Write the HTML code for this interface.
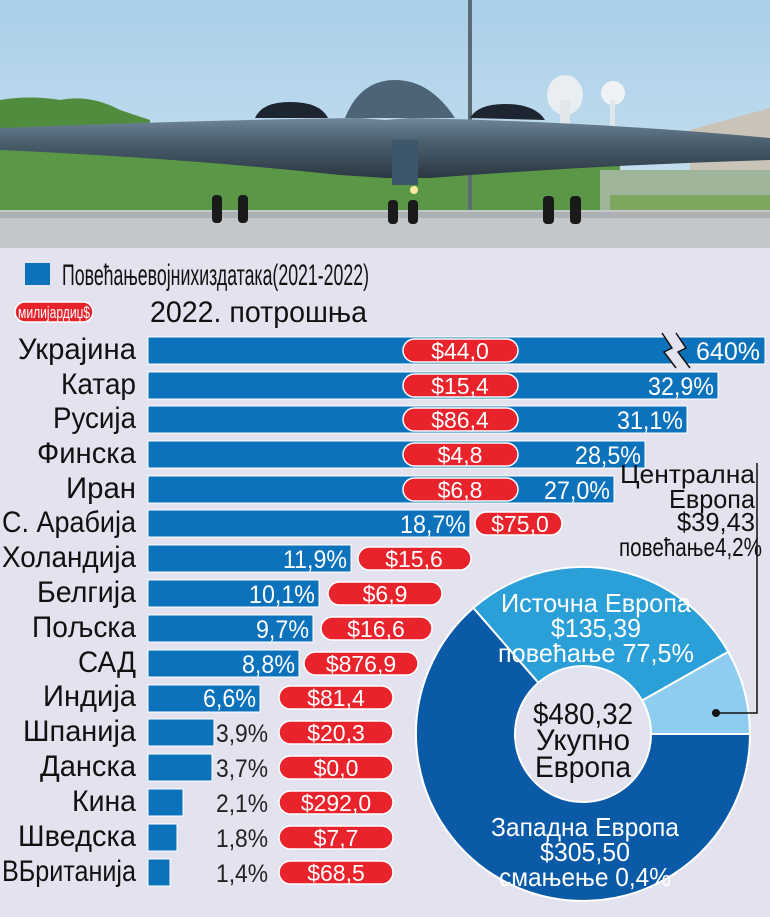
<!DOCTYPE html>
<html><head><meta charset="utf-8"><style>
html,body{margin:0;padding:0;background:#e3e3f0}
svg{display:block}
text{font-family:"Liberation Sans Narrow","Liberation Sans",sans-serif}
</style></head><body>
<svg width="770" height="917" viewBox="0 0 770 917" xmlns="http://www.w3.org/2000/svg">
<defs>
<linearGradient id="sky" x1="0" y1="0" x2="0" y2="1"><stop offset="0" stop-color="#a9cfe9"/><stop offset="1" stop-color="#cfe3f0"/></linearGradient>
<linearGradient id="wing" x1="0" y1="0" x2="0" y2="1"><stop offset="0" stop-color="#6e8698"/><stop offset="0.4" stop-color="#4b5f6e"/><stop offset="1" stop-color="#2c3843"/></linearGradient>
</defs>
<rect x="0" y="0" width="770" height="917" fill="#e3e3f0"/>
<rect x="0" y="0" width="770" height="248" fill="url(#sky)"/>
<path d="M0,100 Q30,95 60,100 Q90,94 120,110 L150,120 L150,210 L0,210 Z" fill="#4f8c3e"/>
<rect x="0" y="150" width="620" height="60" fill="#5a9848"/>
<rect x="600" y="170" width="170" height="40" fill="#9fb59a"/>
<rect x="610" y="195" width="160" height="15" fill="#7fa65e"/>
<path d="M690,130 L770,108 L770,170 L690,170 Z" fill="#c9c3b8"/>
<ellipse cx="565" cy="95" rx="18" ry="20" fill="#e8eef2"/><rect x="560" y="100" width="10" height="30" fill="#e0e6ea"/>
<ellipse cx="613" cy="93" rx="12" ry="12" fill="#eef2f5"/><rect x="610" y="100" width="5" height="30" fill="#e0e6ea"/>
<rect x="468" y="0" width="4" height="210" fill="#5d6a73"/>
<rect x="0" y="210" width="770" height="38" fill="#c4c7c9"/>
<rect x="0" y="212" width="770" height="6" fill="#aeb1b3"/>
<path d="M0,128 Q200,120 360,118 L385,120 L410,118 Q600,122 770,138 L770,160 Q600,165 430,178 L385,178 L340,175 Q180,158 0,150 Z" fill="url(#wing)"/>
<path d="M345,118 Q360,80 395,80 Q430,80 455,118 Z" fill="#4d6477"/>
<path d="M255,118 Q262,102 290,102 Q320,102 328,118 Z" fill="#1c2530"/>
<path d="M470,118 Q478,104 505,104 Q535,104 545,120 Z" fill="#1c2530"/>
<rect x="392" y="140" width="26" height="45" fill="#3e566a"/>
<rect x="212" y="195" width="10" height="28" rx="4" fill="#1a1a1a"/><rect x="238" y="195" width="10" height="28" rx="4" fill="#1a1a1a"/>
<rect x="388" y="200" width="10" height="24" rx="4" fill="#1a1a1a"/><rect x="408" y="200" width="10" height="24" rx="4" fill="#1a1a1a"/>
<rect x="543" y="196" width="11" height="28" rx="4" fill="#1a1a1a"/><rect x="570" y="196" width="11" height="28" rx="4" fill="#1a1a1a"/>
<circle cx="414" cy="190" r="4" fill="#ffe9a0"/>

<rect x="25" y="263" width="25" height="22" fill="#0b72bb"/>
<text x="62" y="285" font-size="30" fill="#111" textLength="307" lengthAdjust="spacingAndGlyphs">Повећањевојнихиздатака(2021-2022)</text>
<rect x="15" y="302" width="78" height="20" rx="10" fill="#e8232b" stroke="#fff" stroke-width="1.5"/>
<text x="54" y="318" font-size="17" fill="#fff" text-anchor="middle" textLength="72" lengthAdjust="spacingAndGlyphs">милијардиџ$</text>
<text x="150" y="322" font-size="30" fill="#111" textLength="217" lengthAdjust="spacingAndGlyphs">2022. потрошња</text>

<g font-size="30" fill="#111" text-anchor="end" lengthAdjust="spacingAndGlyphs">
<text x="136" y="359" textLength="118" lengthAdjust="spacingAndGlyphs">Украјина</text>
<text x="136" y="394" textLength="75" lengthAdjust="spacingAndGlyphs">Катар</text>
<text x="136" y="428" textLength="83" lengthAdjust="spacingAndGlyphs">Русија</text>
<text x="136" y="463" textLength="99" lengthAdjust="spacingAndGlyphs">Финска</text>
<text x="136" y="498" textLength="70" lengthAdjust="spacingAndGlyphs">Иран</text>
<text x="136" y="532" textLength="134" lengthAdjust="spacingAndGlyphs">С. Арабија</text>
<text x="136" y="567" textLength="134" lengthAdjust="spacingAndGlyphs">Холандија</text>
<text x="136" y="602" textLength="99" lengthAdjust="spacingAndGlyphs">Белгија</text>
<text x="136" y="637" textLength="104" lengthAdjust="spacingAndGlyphs">Пољска</text>
<text x="136" y="672" textLength="58" lengthAdjust="spacingAndGlyphs">САД</text>
<text x="136" y="706" textLength="93" lengthAdjust="spacingAndGlyphs">Индија</text>
<text x="136" y="741" textLength="113" lengthAdjust="spacingAndGlyphs">Шпанија</text>
<text x="136" y="776" textLength="96" lengthAdjust="spacingAndGlyphs">Данска</text>
<text x="136" y="811" textLength="64" lengthAdjust="spacingAndGlyphs">Кина</text>
<text x="136" y="846" textLength="118" lengthAdjust="spacingAndGlyphs">Шведска</text>
<text x="136" y="881" textLength="134" lengthAdjust="spacingAndGlyphs">ВБританија</text>
</g>

<g fill="#0b72bb" stroke="#fff" stroke-width="1">
<rect x="148" y="337" width="617" height="27"/>
<rect x="148" y="372" width="570" height="27"/>
<rect x="148" y="406" width="539" height="27"/>
<rect x="148" y="441" width="497" height="27"/>
<rect x="148" y="476" width="466" height="27"/>
<rect x="148" y="510" width="322" height="27"/>
<rect x="148" y="545" width="203" height="27"/>
<rect x="148" y="580" width="171" height="27"/>
<rect x="148" y="615" width="165" height="27"/>
<rect x="148" y="650" width="151" height="27"/>
<rect x="148" y="685" width="112" height="27"/>
<rect x="148" y="719" width="66" height="27"/>
<rect x="148" y="754" width="64" height="27"/>
<rect x="148" y="789" width="35" height="27"/>
<rect x="148" y="824" width="29" height="27"/>
<rect x="148" y="859" width="22" height="27"/>
</g>
<path d="M662,333 L672,348 L664,352 L676,368 L690,368 L678,352 L686,348 L676,333 Z" fill="#e3e3f0"/>
<path d="M662,333 L672,348 L664,352 L676,368 M676,333 L686,348 L678,352 L690,368" fill="none" stroke="#111" stroke-width="1.5"/>

<g font-size="25" fill="#fff" text-anchor="end">
<text x="760" y="360" textLength="64" lengthAdjust="spacingAndGlyphs">640%</text>
<text x="714" y="395" textLength="66" lengthAdjust="spacingAndGlyphs">32,9%</text>
<text x="683" y="429" textLength="66" lengthAdjust="spacingAndGlyphs">31,1%</text>
<text x="641" y="464" textLength="66" lengthAdjust="spacingAndGlyphs">28,5%</text>
<text x="610" y="499" textLength="66" lengthAdjust="spacingAndGlyphs">27,0%</text>
<text x="466" y="533" textLength="66" lengthAdjust="spacingAndGlyphs">18,7%</text>
<text x="347" y="568" textLength="64" lengthAdjust="spacingAndGlyphs">11,9%</text>
<text x="315" y="603" textLength="66" lengthAdjust="spacingAndGlyphs">10,1%</text>
<text x="309" y="638" textLength="53" lengthAdjust="spacingAndGlyphs">9,7%</text>
<text x="295" y="673" textLength="53" lengthAdjust="spacingAndGlyphs">8,8%</text>
<text x="256" y="707" textLength="53" lengthAdjust="spacingAndGlyphs">6,6%</text>
</g>
<g font-size="25" fill="#222" text-anchor="end">
<text x="268" y="742" textLength="52" lengthAdjust="spacingAndGlyphs">3,9%</text>
<text x="268" y="777" textLength="52" lengthAdjust="spacingAndGlyphs">3,7%</text>
<text x="268" y="812" textLength="52" lengthAdjust="spacingAndGlyphs">2,1%</text>
<text x="268" y="847" textLength="52" lengthAdjust="spacingAndGlyphs">1,8%</text>
<text x="268" y="882" textLength="52" lengthAdjust="spacingAndGlyphs">1,4%</text>
</g>

<g fill="#e8232b" stroke="#fff" stroke-width="1.5">
<rect x="403" y="339" width="115" height="23" rx="11.5"/>
<rect x="403" y="374" width="115" height="23" rx="11.5"/>
<rect x="403" y="408" width="115" height="23" rx="11.5"/>
<rect x="403" y="443" width="115" height="23" rx="11.5"/>
<rect x="403" y="478" width="115" height="23" rx="11.5"/>
<rect x="475" y="512" width="87" height="23" rx="11.5"/>
<rect x="358" y="547" width="113" height="23" rx="11.5"/>
<rect x="328" y="582" width="114" height="23" rx="11.5"/>
<rect x="321" y="617" width="111" height="23" rx="11.5"/>
<rect x="304" y="652" width="114" height="23" rx="11.5"/>
<rect x="279" y="686" width="114" height="23" rx="11.5"/>
<rect x="279" y="721" width="114" height="23" rx="11.5"/>
<rect x="279" y="756" width="114" height="23" rx="11.5"/>
<rect x="279" y="791" width="114" height="23" rx="11.5"/>
<rect x="279" y="826" width="114" height="23" rx="11.5"/>
<rect x="279" y="861" width="114" height="23" rx="11.5"/>
</g>
<g font-size="23" fill="#fff" text-anchor="middle">
<text x="460" y="359">$44,0</text>
<text x="460" y="394">$15,4</text>
<text x="460" y="428">$86,4</text>
<text x="460" y="463">$4,8</text>
<text x="460" y="498">$6,8</text>
<text x="520" y="532">$75,0</text>
<text x="414" y="567">$15,6</text>
<text x="385" y="602">$6,9</text>
<text x="376" y="637">$16,6</text>
<text x="361" y="672">$876,9</text>
<text x="336" y="706">$81,4</text>
<text x="336" y="741">$20,3</text>
<text x="336" y="776">$0,0</text>
<text x="336" y="811">$292,0</text>
<text x="336" y="846">$7,7</text>
<text x="336" y="881">$68,5</text>
</g>

<g font-size="26" fill="#111" text-anchor="end">
<text x="755" y="483" textLength="135" lengthAdjust="spacingAndGlyphs">Централна</text>
<text x="755" y="508" textLength="86" lengthAdjust="spacingAndGlyphs">Европа</text>
<text x="755" y="531" textLength="78" lengthAdjust="spacingAndGlyphs">$39,43</text>
<text x="762" y="556" textLength="143" lengthAdjust="spacingAndGlyphs">повећање4,2%</text>
</g>
<g stroke="#fff" stroke-width="2">
<path d="M750,734 A167,167 0 1 1 473.4,607.9 L538.4,682.7 A68,68 0 1 0 651,734 Z" fill="#0a5aa8"/>
<path d="M473.4,607.9 A167,167 0 0 1 728.3,651.8 L642.2,700.5 A68,68 0 0 0 538.4,682.7 Z" fill="#2b9fd8"/>
<path d="M728.3,651.8 A167,167 0 0 1 750,734 L651,734 A68,68 0 0 0 642.2,700.5 Z" fill="#8ecdef"/>
</g>
<circle cx="583" cy="734" r="67" fill="#e3e3f0"/>
<polyline points="716,713 757,713 757,463" fill="none" stroke="#111" stroke-width="1.5"/>
<circle cx="716" cy="713" r="4" fill="#111"/>
<g font-size="26" fill="#fff" text-anchor="middle">
<text x="596" y="612" textLength="190" lengthAdjust="spacingAndGlyphs">Источна Европа</text>
<text x="596" y="637" textLength="90" lengthAdjust="spacingAndGlyphs">$135,39</text>
<text x="596" y="662" textLength="196" lengthAdjust="spacingAndGlyphs">повећање 77,5%</text>
<text x="585" y="836" textLength="188" lengthAdjust="spacingAndGlyphs">Западна Европа</text>
<text x="585" y="861" textLength="90" lengthAdjust="spacingAndGlyphs">$305,50</text>
<text x="585" y="886" textLength="172" lengthAdjust="spacingAndGlyphs">смањење 0,4%</text>
</g>
<g font-size="30" fill="#111" text-anchor="middle">
<text x="583" y="724" textLength="100" lengthAdjust="spacingAndGlyphs">$480,32</text>
<text x="583" y="750" textLength="94" lengthAdjust="spacingAndGlyphs">Укупно</text>
<text x="583" y="777" textLength="96" lengthAdjust="spacingAndGlyphs">Европа</text>
</g>
</svg>
</body></html>
